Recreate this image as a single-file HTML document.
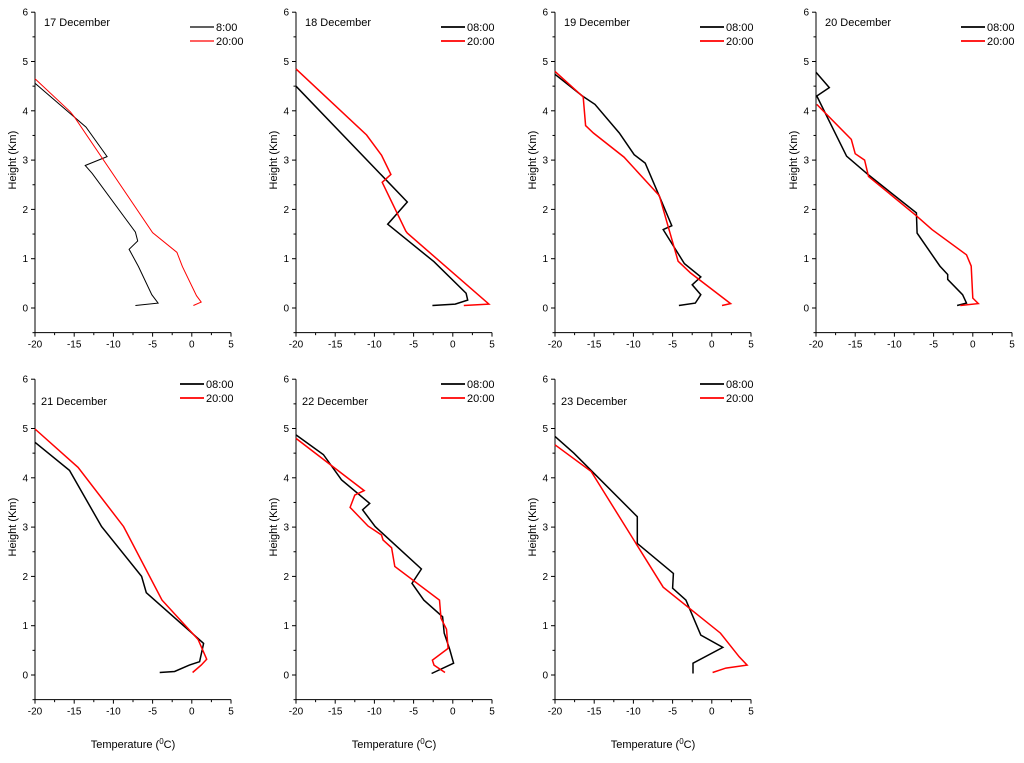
<!DOCTYPE html>
<html><head><meta charset="utf-8">
<style>
body{margin:0;background:#fff;width:1024px;height:758px;overflow:hidden}
svg{font-family:"Liberation Sans",sans-serif}
</style></head>
<body>
<svg id="chart" width="1024" height="758"></svg>
<script>
const days = ["17 December","18 December","19 December","20 December","21 December","22 December","23 December"];
const morningLabels = ["8:00","08:00","08:00","08:00","08:00","08:00","08:00"];
const eveningLabel = "20:00";
const xTicks = [-20,-15,-10,-5,0,5];
const yTicks = [0,1,2,3,4,5,6];
// morning (black) series
const mT17 = [-20,-13.5,-10.8,-13.6,-12.7,-7.2,-6.9,-8.0,-6.8,-5.1,-4.3,-7.2];
const mH17 = [4.56,3.67,3.07,2.89,2.73,1.54,1.36,1.19,0.84,0.27,0.1,0.05];
const eT17 = [-20,-15.5,-15,-5,-1.9,-1.2,0.6,1.2,0.2];
const eH17 = [4.65,3.98,3.88,1.53,1.13,0.84,0.25,0.12,0.05];
const mT18 = [-20,-5.8,-8.3,-2.4,1.7,1.9,0.3,-2.6];
const mH18 = [4.5,2.15,1.7,0.94,0.3,0.16,0.08,0.05];
const eT18 = [-20,-11,-9.1,-7.9,-9,-6,-5.8,4.6,1.4];
const eH18 = [4.85,3.51,3.1,2.71,2.55,1.56,1.52,0.08,0.05];
const mT19 = [-20,-16.5,-14.9,-11.8,-9.9,-8.5,-6.7,-5.1,-6.2,-3.5,-1.4,-2.5,-1.4,-2.1,-4.2];
const mH19 = [4.74,4.3,4.13,3.55,3.11,2.94,2.27,1.67,1.59,0.9,0.63,0.47,0.27,0.1,0.05];
const eT19 = [-20,-16.4,-16.1,-15.1,-11.2,-6.7,-4.3,-2.7,2.4,1.3];
const eH19 = [4.8,4.28,3.7,3.55,3.06,2.28,0.95,0.71,0.09,0.05];
const mT20 = [-20,-18.3,-19.9,-16.1,-13.3,-7.2,-7.1,-4.2,-3.2,-3.2,-1.3,-0.8,-2.0];
const mH20 = [4.78,4.47,4.3,3.08,2.7,1.93,1.52,0.85,0.68,0.58,0.27,0.1,0.05];
const eT20 = [-19.9,-15.5,-15,-13.8,-13.3,-7.2,-5.2,-0.8,-0.2,0,0.7,-1.6];
const eH20 = [4.13,3.42,3.13,3.0,2.67,1.87,1.59,1.08,0.85,0.2,0.09,0.05];
const mT21 = [-20,-15.6,-11.5,-6.4,-5.8,1.5,1.0,-0.3,-2.2,-4.1];
const mH21 = [4.72,4.15,3.01,2.0,1.67,0.64,0.27,0.2,0.07,0.05];
const eT21 = [-20,-14.5,-8.7,-3.8,0.8,1.9,1.2,0.1];
const eH21 = [4.99,4.21,3.01,1.52,0.72,0.32,0.2,0.05];
const mT22 = [-20,-16.5,-14.2,-10.6,-11.5,-9.9,-4.0,-5.2,-3.7,-1.3,-1.1,-0.4,0.1,-2.7];
const mH22 = [4.87,4.47,3.96,3.48,3.35,3.01,2.15,1.86,1.52,1.18,0.85,0.52,0.24,0.03];
const eT22 = [-20,-11.3,-12.5,-13.1,-10.8,-9.1,-8.9,-7.8,-7.4,-1.7,-1.5,-0.8,-0.6,-2.6,-2.4,-1.0];
const eH22 = [4.8,3.74,3.65,3.4,3.02,2.84,2.74,2.58,2.2,1.52,1.15,0.93,0.54,0.3,0.2,0.05];
const mT23 = [-20,-17.6,-9.5,-9.5,-4.9,-5.0,-3.3,-1.4,1.4,-2.4,-2.4];
const mH23 = [4.84,4.5,3.21,2.67,2.06,1.76,1.52,0.81,0.56,0.24,0.03];
const eT23 = [-20,-15.4,-6.2,1.1,3.5,4.5,1.8,0.1];
const eH23 = [4.67,4.13,1.78,0.85,0.37,0.2,0.14,0.05];

const morningT=[mT17,mT18,mT19,mT20,mT21,mT22,mT23];
const morningH=[mH17,mH18,mH19,mH20,mH21,mH22,mH23];
const eveningT=[eT17,eT18,eT19,eT20,eT21,eT22,eT23];
const eveningH=[eH17,eH18,eH19,eH20,eH21,eH22,eH23];

const NS="http://www.w3.org/2000/svg";
const svg=document.getElementById('chart');
function mk(tag,attrs,parent){const e=document.createElementNS(NS,tag);for(const k in attrs)e.setAttribute(k,attrs[k]);(parent||svg).appendChild(e);return e;}
const origins=[[35,308],[296,308],[555,308],[816,308],[35,675],[296,675],[555,675]];
const XS=7.84, YS=49.3;
const xLo=-20, xHi=5, yLo=-0.5, yHi=6;
origins.forEach((o,i)=>{
  const x0=o[0], y0=o[1];
  const sx=t=>x0+(t-xLo)*XS;
  const sy=h=>y0-h*YS;
  const g=mk('g',{});
  
  
  const ax=mk('path',{d:`M${sx(xLo)},${sy(yHi)}V${sy(yLo)}H${sx(xHi)}`,fill:'none',stroke:'#000','stroke-width':1},g);
  
  
  for(let h=yLo;h<=yHi+0.001;h+=0.5){
    const major=Math.abs(h-Math.round(h))<0.01;
    mk('line',{x1:sx(xLo),x2:sx(xLo)-(major?4:2.5),y1:sy(h),y2:sy(h),stroke:'#000','stroke-width':1},g);
  }
  yTicks.forEach(v=>{
    const t=mk('text',{x:sx(xLo)-7,y:sy(v)+3.5,'font-size':10,'text-anchor':'end',fill:'#000'},g);
    t.textContent=v;
    
    
  });
  for(let v=xLo;v<=xHi+0.001;v+=2.5){
    const major=v%5===0;
    mk('line',{x1:sx(v),x2:sx(v),y1:sy(yLo),y2:sy(yLo)+(major?4:2.5),stroke:'#000','stroke-width':1},g);
  }
  xTicks.forEach(v=>{
    const t=mk('text',{x:sx(v),y:sy(yLo)+15,'font-size':10,'text-anchor':'middle',fill:'#000'},g);
    t.textContent=v;
    
    
  });
  const yl=mk('text',{x:0,y:0,'font-size':11,'text-anchor':'middle',transform:`translate(${x0-19},${sy(3)}) rotate(-90)`},g);
  yl.textContent='Height (Km)';
  
  
  const row2=i>=4;
  const tt=mk('text',{x:x0+(row2?6:9),y:row2?y0-270:y0-282,'font-size':11},g);
  tt.textContent=days[i];
  
  
  const sw=i===0?1:1.5;
  const series=[[morningT[i],morningH[i],'#000'],[eveningT[i],eveningH[i],'#f00']];
  series.forEach((s,k)=>{
    const pts=s[0].map((t,j)=>sx(t).toFixed(1)+','+sy(s[1][j]).toFixed(1)).join(' ');
    const pl=mk('polyline',{points:pts,fill:'none',stroke:s[2],'stroke-width':sw,'stroke-linejoin':'miter'},g);
    
    
  });
  const ly=row2?y0-291:y0-281;
  const lx=x0+(i===0?155:145);
  [[morningLabels[i],'#000',0],[eveningLabel,'#f00',14]].forEach((L,k)=>{
    const ln=mk('line',{x1:lx,x2:lx+24,y1:ly+L[2],y2:ly+L[2],stroke:L[1],'stroke-width':sw+0.3},g);
    
    
    const lt=mk('text',{x:lx+26,y:ly+L[2]+4,'font-size':11},g);
    lt.textContent=L[0];
    
    
  });
  if(row2){
    const xt=mk('text',{x:sx(-7.5),y:748,'font-size':11,'text-anchor':'middle'},g);
    xt.innerHTML='Temperature (<tspan font-size="8" dy="-4">0</tspan><tspan dy="4">C)</tspan>';
    
    
  }
});
</script>
</body></html>
